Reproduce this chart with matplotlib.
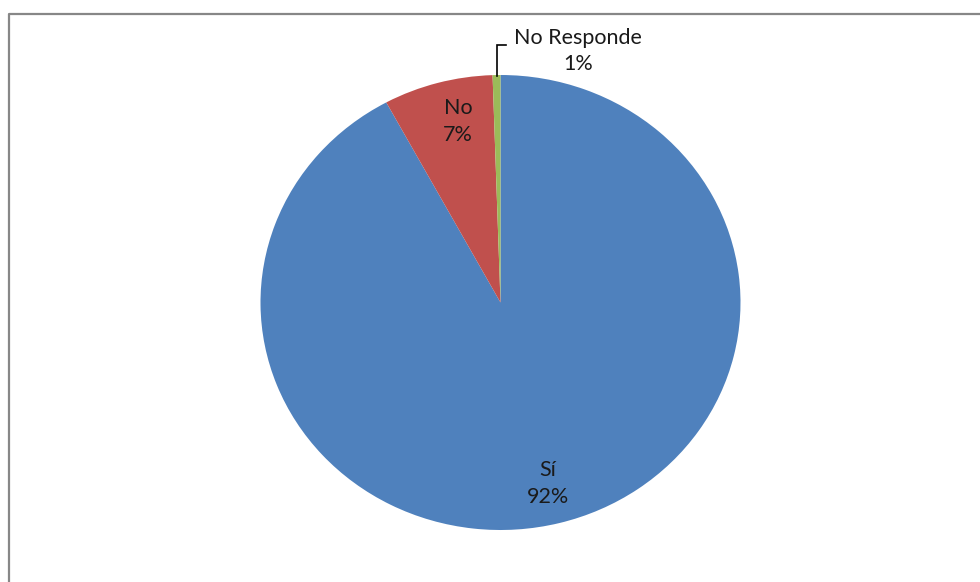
import matplotlib
matplotlib.use('Agg')
import matplotlib.pyplot as plt
from matplotlib.lines import Line2D

# respuestas de la encuesta
categorias = ['Sí', 'No', 'No Responde']
respuestas = [175, 14, 1]
colores = ['#4F81BD', '#C0504D', '#9BBB59']

plt.rcParams['font.family'] = ['Lato', 'DejaVu Sans']

W, H = 980, 582
fig = plt.figure(figsize=(W / 100, H / 100), dpi=100)

# el pie ocupa una caja de 480x455 px (ligeramente achatado)
cx, cy, rx, ry = 500.5, 302.5, 240, 227.5
ax = fig.add_axes([(cx - rx) / W, (H - cy - ry) / H, 2 * rx / W, 2 * ry / H])

ax.pie(respuestas, colors=colores, startangle=90, counterclock=False,
       radius=1, wedgeprops=dict(linewidth=0))
ax.set_aspect('auto')
ax.set_xlim(-1, 1)
ax.set_ylim(-1, 1)
ax.axis('off')

total = sum(respuestas)
pct = [round(100 * v / total) for v in respuestas]

# posiciones de las etiquetas en coordenadas del pie
pos = {'Sí': (0.198, -0.795), 'No': (-0.177, 0.795), 'No Responde': (0.323, 1.105)}
for cat, p in zip(categorias, pct):
    x, y = pos[cat]
    ax.text(x, y, f'{cat}\n{p}%', ha='center', va='center', fontsize=15.5,
            color='#1a1a1a', linespacing=1.42)

# línea guía de "No Responde"
px = lambda v: (v - cx) / rx
py = lambda v: (cy - v) / ry
ax.plot([px(496.5), px(496.5), px(506)], [py(76), py(45), py(45)],
        color='black', lw=1.2, clip_on=False, solid_joinstyle='miter')

# borde del área del gráfico
fig.add_artist(Line2D([8.5 / W, 8.5 / W, 1], [0, 1 - 13.5 / H, 1 - 13.5 / H],
                      transform=fig.transFigure, color='#878787', lw=1.6))

fig.savefig('out.png', dpi=100)
